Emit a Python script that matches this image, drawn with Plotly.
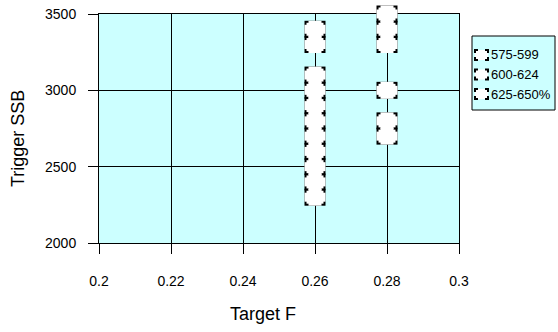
import plotly.graph_objects as go

# ---- data ----
series_names = ["575-599", "600-624", "625-650%"]
s1_f = [0.26, 0.26, 0.26, 0.26, 0.28, 0.28]
s1_ssb = [2300, 2400, 2500, 2600, 3500, 3400]
s2_f = [0.26, 0.26, 0.26, 0.26, 0.28, 0.28]
s2_ssb = [2700, 2800, 2900, 3000, 3300, 3000]
s3_f = [0.26, 0.26, 0.26, 0.28, 0.28]
s3_ssb = [3100, 3300, 3400, 2800, 2700]
x_ticks = [0.2, 0.22, 0.24, 0.26, 0.28, 0.3]
y_ticks = [2000, 2500, 3000, 3500]

series = [(series_names[0], s1_f, s1_ssb),
          (series_names[1], s2_f, s2_ssb),
          (series_names[2], s3_f, s3_ssb)]

FONT = "Liberation Sans, Arial, sans-serif"
W, H = 558, 332
L, R, T, B = 99, 99, 14, 89
PW, PH = W - L - R, H - T - B

def px2x(px):
    return (px - L) / PW

def py2y(py):
    return (H - B - py) / PH

fig = go.Figure()

# marker drawn as layered horizontal-line symbols: outer black box, then white
# bands leaving L-shaped corner marks (dotted-border look)
layers = [
    ("black", 21, 17),
    ("white", 13, 17),
    ("white", 21, 9),
    ("white", 17, 13),
]
for color, w, h in layers:
    for name, fx, fy in series:
        fig.add_trace(go.Scatter(
            x=fx, y=fy, mode="markers", name=name, showlegend=False,
            cliponaxis=False, hoverinfo="skip",
            marker=dict(symbol="line-ew", size=w / 1.4, color=color,
                        line=dict(color=color, width=h)),
        ))

axis_common = dict(
    showgrid=True, gridcolor="black", gridwidth=1,
    showline=True, linecolor="black", linewidth=1, mirror=True,
    ticks="outside", ticklen=10, tickcolor="black",
    tickfont=dict(family=FONT, size=14, color="black"),
    zeroline=False, layer="below traces", fixedrange=True,
    automargin=False,
)
fig.update_xaxes(range=[0.2, 0.3], tickvals=x_ticks,
                 ticktext=[f"{v:g}" for v in x_ticks],
                 ticklabelstandoff=15, **axis_common)
fig.update_yaxes(range=[2000, 3500], tickvals=y_ticks,
                 ticklabelstandoff=9, **axis_common)

# manual legend
shapes = [dict(type="rect", xref="paper", yref="paper",
               x0=px2x(472), x1=px2x(555), y0=py2y(110), y1=py2y(36),
               fillcolor="#CCFFFF", line=dict(color="black", width=1),
               layer="above")]
annotations = []
row_y = [55, 74.5, 94]
for (name, _, _), ry in zip(series, row_y):
    shapes.append(dict(type="rect", xref="paper", yref="paper",
                       xsizemode="pixel", ysizemode="pixel",
                       xanchor=px2x(481.5), yanchor=py2y(ry),
                       x0=-6.5, x1=6.5, y0=-5, y1=5,
                       fillcolor="white",
                       line=dict(color="black", width=2,
                                 dash="3px,7px,6px,4px,6px,7px,6px,4px,3px"),
                       layer="above"))
    annotations.append(dict(xref="paper", yref="paper", x=px2x(489), y=py2y(ry),
                            xanchor="left", yanchor="middle", showarrow=False,
                            text=name, font=dict(family=FONT, size=13, color="black")))

annotations.append(dict(xref="paper", yref="paper", x=px2x(263), y=py2y(314),
                        xanchor="center", yanchor="middle", showarrow=False,
                        text="Target F", font=dict(family=FONT, size=18, color="black")))
annotations.append(dict(xref="paper", yref="paper", x=px2x(18), y=py2y(139),
                        xanchor="center", yanchor="middle", showarrow=False,
                        textangle=-90,
                        text="Trigger SSB", font=dict(family=FONT, size=18, color="black")))

fig.update_layout(
    width=W, height=H, margin=dict(l=L, r=R, t=T, b=B, autoexpand=False),
    paper_bgcolor="white", plot_bgcolor="#CCFFFF",
    showlegend=False, shapes=shapes, annotations=annotations,
)
fig.write_html("out.html", config={"displayModeBar": False})
